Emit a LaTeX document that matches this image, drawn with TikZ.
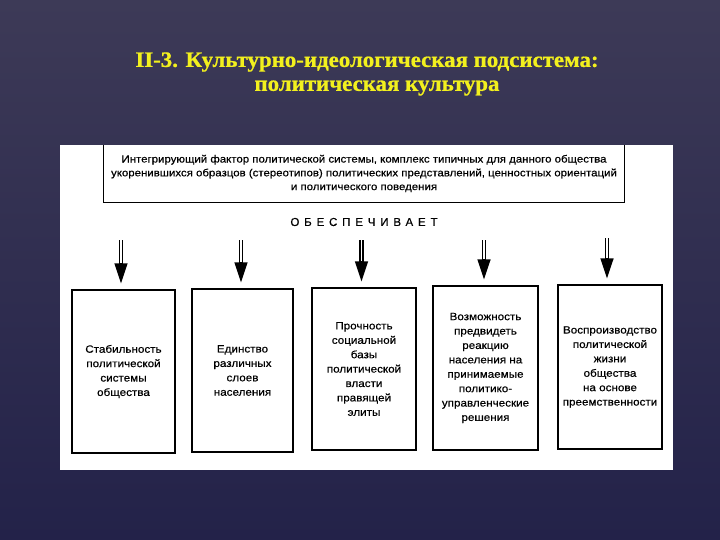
\documentclass[tikz,border=0pt]{standalone}
\usepackage{fontspec}
\setmainfont[FakeStretch=1.1, FakeBold=0.5]{Liberation Sans}
\newfontfamily\titlefont[FakeStretch=1.04, FakeBold=0.8]{Liberation Serif}
\newfontfamily\spacedfont[LetterSpace=42, FakeBold=0.4]{Liberation Sans}
\usetikzlibrary{arrows.meta}
\definecolor{bgtop}{HTML}{3D3A57}
\definecolor{bgbot}{HTML}{232249}
\definecolor{titleyellow}{HTML}{F2F01E}
\tikzset{
  x=1pt, y=-1pt,
  titletext/.style={font=\titlefont\bfseries\fontsize{22}{26}\selectfont, text=titleyellow, inner sep=0pt},
  factbox/.style={draw=black, line width=1.2pt, minimum width=#1, align=center, inner sep=2pt,
    font=\fontsize{10.6}{14.4}\selectfont},
  bigarrow/.style={line width=4.2pt, -{Triangle[length=21pt,width=12pt]}, shorten >=5pt},
  hollow/.style={white, line width=1.8pt, shorten >=26pt},
}
\begin{document}
\begin{tikzpicture}
\useasboundingbox (0,0) rectangle (720,540);
\shade[top color=bgtop, bottom color=bgbot] (0,0) rectangle (720,540);
% title
\node[titletext] (t1) at (367,62) {II-3. Культурно-идеологическая подсистема:};
\node[titletext] (t2) at (377,88) {политическая культура};
% white panel
\fill[white] (60,145) rectangle (673,470);
% top box
\node[inner sep=0pt, minimum width=520pt, minimum height=57pt, align=center,
      font=\fontsize{10.4}{13.8}\selectfont] (top) at (364,173.5)
  {Интегрирующий фактор политической системы, комплекс типичных для данного общества\\
   укоренившихся образцов (стереотипов) политических представлений, ценностных ориентаций\\
   и политического поведения};
\draw[line width=1pt] (top.north west) -- (top.south west) -- (top.south east) -- (top.north east);
% ОБЕСПЕЧИВАЕТ
\node[font=\spacedfont\fontsize{11.5}{13}\selectfont, inner sep=0pt] (prov) at (364,222) {ОБЕСПЕЧИВАЕТ};
% boxes
\node[factbox=103pt, minimum height=163pt] (b1) at (123.5,371.5)
  {Стабильность\\политической\\системы\\общества};
\node[factbox=101pt, minimum height=163pt] (b2) at (242.5,370.5)
  {Единство\\различных\\слоев\\населения};
\node[factbox=104pt, minimum height=162pt] (b3) at (364,369)
  {Прочность\\социальной\\базы\\политической\\власти\\правящей\\элиты};
\node[factbox=105pt, minimum height=164pt] (b4) at (485.5,368)
  {Возможность\\предвидеть\\реакцию\\населения на\\принимаемые\\политико-\\управленческие\\решения};
\node[factbox=104pt, minimum height=164pt] (b5) at (610,367)
  {Воспроизводство\\политической\\жизни\\общества\\на основе\\преемственности};
% arrow starts
\coordinate (s1) at (121,240);
\coordinate (s2) at (241,240);
\coordinate (s3) at (361.5,240);
\coordinate (s4) at (484,240);
\coordinate (s5) at (607,238);
\foreach \i in {1,...,5}{
  \draw[bigarrow] (s\i) -- (s\i |- b\i.north);
  \draw[hollow] (s\i) -- (s\i |- b\i.north);
}
\end{tikzpicture}
\end{document}
